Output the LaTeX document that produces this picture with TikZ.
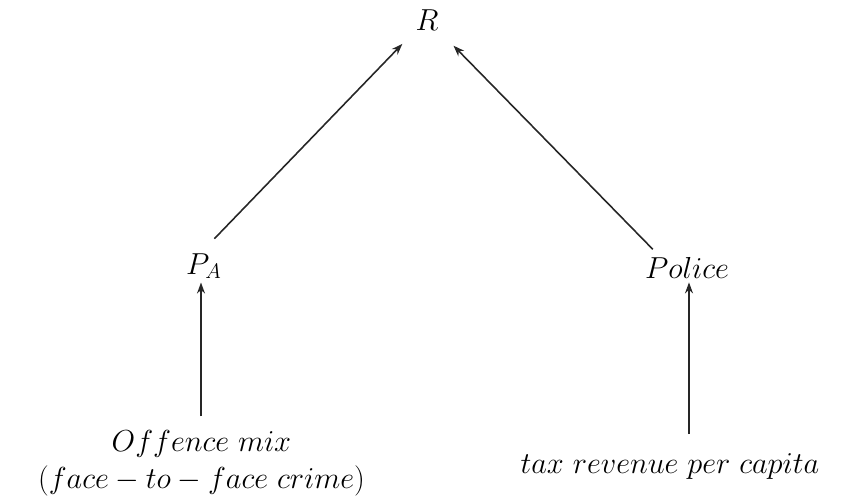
\documentclass[tikz,border=0pt]{standalone}
\usepackage{xcolor}
\usepackage{tikz}
\usetikzlibrary{arrows.meta}

\tikzset{
  var/.style={inner sep=2pt, font=\fontsize{17}{21}\selectfont, align=center},
  arr/.style={line width=0.9pt, draw=black!85, -{Stealth[length=2.2mm,width=1.6mm]}}
}

\begin{document}
\begin{tikzpicture}
        \useasboundingbox (0,0) rectangle (16.820,9.980);
        \node[var] (R) at (8.540,9.580) {$R$};
        \node[var] (PA) at (4.080,4.660) {$P_A$};
        \node[var] (Police) at (13.740,4.620) {$Police$};
        \node[var] (Offence) at (4.030,0.720) {$Offence\ mix$\\$(face - to - face\ crime)$};
        \node[var] (Tax) at (13.400,0.660) {$tax\ revenue\ per\ capita$};

        \draw[arr, shorten <=0.30cm, shorten >=0.27cm] (PA.north) -- (R.south west);
        \draw[arr, shorten <=0.12cm, shorten >=0.32cm] ([xshift=-0.6cm]Police.north) -- (R.south east);
        \draw[arr, shorten <=0.20cm] ([xshift=-0.06cm]PA.south |- Offence.north) -- ([xshift=-0.06cm]PA.south);
        \draw[arr, shorten <=0.30cm] ([xshift=0.04cm]Police.south |- Tax.north) -- ([xshift=0.04cm]Police.south);
        \end{tikzpicture}
\end{document}
